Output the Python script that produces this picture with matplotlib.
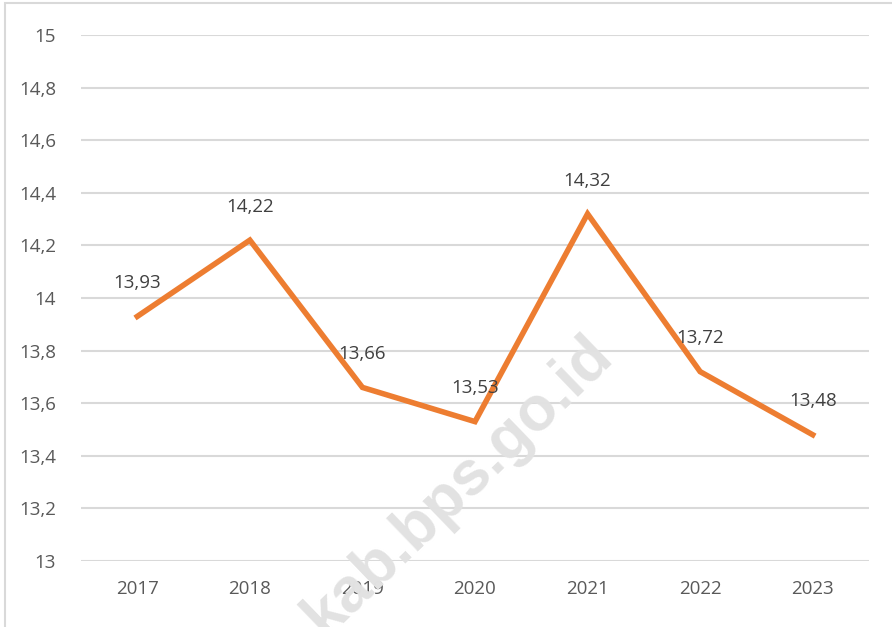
import matplotlib
matplotlib.use('Agg')
import matplotlib.pyplot as plt
from matplotlib.patches import Rectangle

years = ['2017', '2018', '2019', '2020', '2021', '2022', '2023']
values = [13.93, 14.22, 13.66, 13.53, 14.32, 13.72, 13.48]
y_ticks = [13, 13.2, 13.4, 13.6, 13.8, 14, 14.2, 14.4, 14.6, 14.8, 15]

plt.rcParams['font.family'] = ['Open Sans', 'DejaVu Sans']

fig = plt.figure(figsize=(8.92, 6.27), dpi=100)
fig.patch.set_facecolor('white')

# border around the chart area
fig.patches.append(Rectangle((5 / 892, -0.01), 1.0, 1 - 3 / 627 + 0.01,
                             transform=fig.transFigure, fill=False,
                             edgecolor='#d9d9d9', linewidth=1.5, zorder=0))

# watermark
fig.text(458 / 892, 1 - 486 / 627, 'kab.bps.go.id', rotation=44,
         ha='center', va='center', fontsize=45, fontweight='bold',
         color='#e2e2e2', family=['Liberation Sans', 'DejaVu Sans'], zorder=0)

ax = fig.add_axes([81 / 892, 66 / 627, 788 / 892, 526 / 627])
ax.patch.set_alpha(0)

x = list(range(len(years)))
ax.plot(x, values, color='#ED7D31', linewidth=4, solid_joinstyle='miter', zorder=3)

for xi, v in zip(x, values):
    ax.annotate(f'{v:.2f}'.replace('.', ','), (xi, v), xytext=(0, 24),
                textcoords='offset points', ha='center', va='center',
                fontsize=13.5, color='#404040', zorder=4)

ax.set_xlim(-0.5, len(years) - 0.5)
ax.set_ylim(13, 15)
ax.set_yticks(y_ticks)
ax.set_yticklabels([f'{t:g}'.replace('.', ',') for t in y_ticks])
ax.set_xticks(x)
ax.set_xticklabels(years)
ax.tick_params(axis='both', length=0, labelsize=13.5, colors='#595959')
ax.tick_params(axis='y', pad=18)
ax.tick_params(axis='x', pad=14)
ax.grid(axis='y', color='#d9d9d9', linewidth=1.5)
ax.set_axisbelow(True)
for s in ax.spines.values():
    s.set_visible(False)

fig.savefig('out.png', dpi=100)
